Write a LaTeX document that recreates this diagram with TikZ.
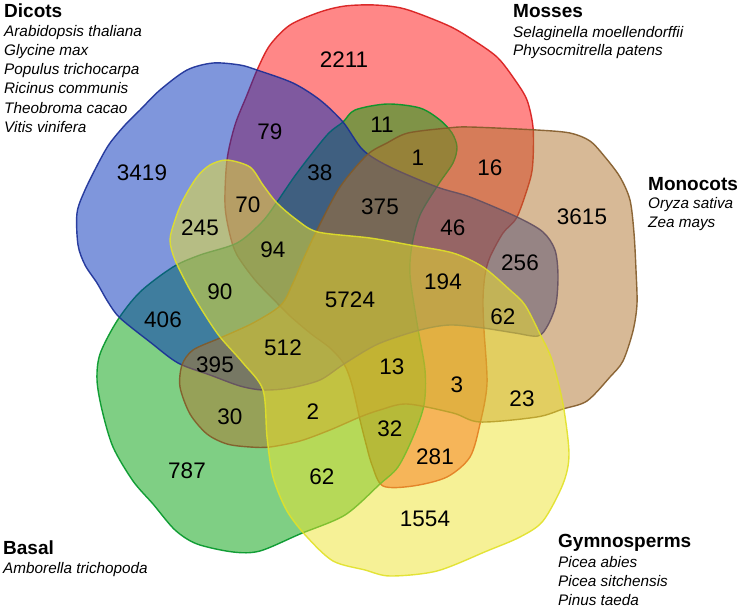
\documentclass[tikz,border=0pt]{standalone}
\usepackage{fontspec}
\setmainfont{Liberation Sans}
\begin{document}
\begin{tikzpicture}[x=1pt,y=-1pt]
\definecolor{redF}{RGB}{255,15,15}
\definecolor{redE}{RGB}{215,25,25}
\definecolor{greenF}{RGB}{0,160,10}
\definecolor{greenE}{RGB}{0,150,40}
\definecolor{blueF}{RGB}{0,45,185}
\definecolor{blueE}{RGB}{25,45,150}
\definecolor{brownF}{RGB}{175,115,45}
\definecolor{brownE}{RGB}{130,90,40}
\definecolor{yellowF}{RGB}{238,228,45}
\definecolor{yellowE}{RGB}{225,225,40}
\tikzset{
  setshape/.style={line width=1.4pt, fill opacity=0.5, draw opacity=0.9},
  num/.style={inner sep=0pt, font=\fontsize{22.5}{27}\selectfont},
  grp/.style={inner sep=0pt, anchor=base west, font=\fontsize{19}{22}\selectfont\bfseries},
  spc/.style={inner sep=0pt, anchor=base west, font=\fontsize{15.3}{18}\selectfont\itshape}
}
\useasboundingbox (0,0) rectangle (740,608);
% Mosses (red)
\draw[setshape, draw=redE, fill=redF] plot[smooth cycle, tension=0.5] coordinates {
 (258,68) (270,45) (290,25) (320,12) (345,6) (375,5) (405,9) (447,25) (470,38) (497,57) (515,80) (527,100) (533,127) (533,160) (530,180) (517,217) (503,233) (490,257) (485,275) (483,300) (484,330) (487,384) (480,424) (470,457) (447,477) (413,486) (383,486) (372,465) (365,440) (360,420) (352,385) (344,364) (330,348) (310,333) (290,316) (277,303) (255,280) (237,255) (230,235) (225,205) (227,160) (235,125) (247,95)};
% Basal (green)
\draw[setshape, draw=greenE, fill=greenF] plot[smooth cycle, tension=0.5] coordinates {
 (343,122) (355,110) (387,104) (420,108) (440,120) (452,133) (457,147) (453,163) (438,185) (420,215) (412,245) (410,275) (417,323) (425,370) (424,405) (413,437) (398,467) (380,484) (345,515) (300,534) (260,551) (233,552) (197,544) (175,530) (153,504) (133,481) (113,447) (102,410) (97,380) (100,354) (117,321) (140,292) (173,267) (200,255) (237,243) (262,222) (277,202) (297,173) (327,135)};
% Dicots (blue)
\draw[setshape, draw=blueE, fill=blueF] plot[smooth cycle, tension=0.5] coordinates {
 (120,318) (108,302) (97,283) (85,265) (78,245) (77,213) (85,190) (100,160) (110,143) (125,125) (140,110) (160,90) (187,70) (213,63) (240,65) (257,70) (293,83) (320,100) (343,122) (363,150) (390,167) (437,187) (470,197) (517,217) (543,232) (555,250) (558,275) (556,304) (548,325) (538,336) (515,333) (483,328) (450,325) (420,330) (378,344) (344,364) (320,380) (290,388) (263,390) (240,386) (210,375) (178,363) (150,342)};
% Monocots (brown)
\draw[setshape, draw=brownE, fill=brownF] plot[smooth cycle, tension=0.5] coordinates {
 (318,228) (340,187) (367,155) (387,143) (408,133) (448,128) (470,127) (537,130) (570,133) (590,141) (605,157) (620,177) (630,200) (634,233) (636,270) (637,304) (633,331) (623,361) (610,377) (587,401) (563,409) (537,417) (480,422) (453,413) (407,404) (380,410) (360,417) (330,430) (300,441) (270,447) (250,447) (227,444) (207,434) (190,414) (180,387) (182,365) (193,350) (220,338) (253,323) (281,305) (293,283) (303,260)};
% Gymnosperms (yellow)
\draw[setshape, draw=yellowE, fill=yellowF] plot[smooth cycle, tension=0.5] coordinates {
 (227,160) (250,167) (263,185) (277,203) (297,220) (318,232) (370,238) (410,245) (453,253) (483,267) (510,290) (525,305) (540,334) (552,360) (563,404) (569,454) (563,484) (543,521) (520,537) (487,551) (437,571) (390,576) (365,570) (333,561) (307,537) (287,511) (273,477) (267,437) (263,390) (243,363) (220,337) (205,315) (190,290) (175,260) (170,240) (175,220) (183,200) (197,177) (210,165)};
% region counts
\node[num] (n2211) at (344,60) {2211};
\node[num] (n79) at (270,132) {79};
\node[num] (n11) at (382,125) {11};
\node[num] (n3419) at (142,173) {3419};
\node[num] (n38) at (320,173) {38};
\node[num] (n1) at (418,158) {1};
\node[num] (n16) at (490,168) {16};
\node[num] (n3615) at (582,217) {3615};
\node[num] (n375) at (380,207) {375};
\node[num] (n46) at (453,228) {46};
\node[num] (n70) at (248,205) {70};
\node[num] (n245) at (200,228) {245};
\node[num] (n94) at (273,250) {94};
\node[num] (n256) at (520,263) {256};
\node[num] (n194) at (443,282) {194};
\node[num] (n5724) at (350,300) {5724};
\node[num] (n90) at (220,292) {90};
\node[num] (n62a) at (503,317) {62};
\node[num] (n406) at (163,320) {406};
\node[num] (n512) at (283,348) {512};
\node[num] (n395) at (215,365) {395};
\node[num] (n13) at (392,367) {13};
\node[num] (n3) at (457,385) {3};
\node[num] (n23) at (522,399) {23};
\node[num] (n30) at (230,417) {30};
\node[num] (n2) at (313,412) {2};
\node[num] (n32) at (390,429) {32};
\node[num] (n281) at (435,457) {281};
\node[num] (n787) at (187,471) {787};
\node[num] (n62b) at (322,477) {62};
\node[num] (n1554) at (425,519) {1554};
% legends
\node[grp] (ldic) at (4,17) {Dicots};
\node[spc] (ld1) at (4,36) {Arabidopsis thaliana};
\node[spc] (ld2) at (4,55) {Glycine max};
\node[spc] (ld3) at (4,74) {Populus trichocarpa};
\node[spc] (ld4) at (4,93) {Ricinus communis};
\node[spc] (ld5) at (4,113) {Theobroma cacao};
\node[spc] (ld6) at (4,132) {Vitis vinifera};
\node[grp] (lmos) at (513,17) {Mosses};
\node[spc] (lm1) at (513,37) {Selaginella moellendorffii};
\node[spc] (lm2) at (513,55) {Physocmitrella patens};
\node[grp] (lmon) at (648,190) {Monocots};
\node[spc] (lo1) at (648,208) {Oryza sativa};
\node[spc] (lo2) at (648,227) {Zea mays};
\node[grp] (lbas) at (3,554) {Basal};
\node[spc] (lb1) at (3,573) {Amborella trichopoda};
\node[grp] (lgym) at (558,547) {Gymnosperms};
\node[spc] (lg1) at (558,567) {Picea abies};
\node[spc] (lg2) at (558,586) {Picea sitchensis};
\node[spc] (lg3) at (558,605) {Pinus taeda};
\end{tikzpicture}
\end{document}
